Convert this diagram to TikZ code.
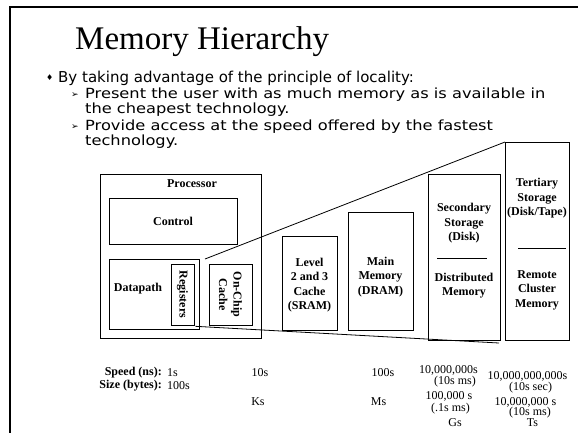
\documentclass[tikz,border=0pt]{standalone}
\usepackage{fontspec}
\setmainfont{Liberation Serif}
\newfontfamily\comic{DejaVu Sans}
\newfontfamily\comicwide[FakeStretch=1.16]{DejaVu Sans}
\begin{document}
\begin{tikzpicture}[x=1pt,y=-1pt,
  box/.style={draw, line width=1.3pt, rectangle, inner sep=0pt, anchor=north west},
  lbl/.style={font=\bfseries\fontsize{12}{14.5}\selectfont, align=center, inner sep=0pt},
  val/.style={font=\fontsize{12}{14}\selectfont, inner sep=0pt},
  bval/.style={font=\bfseries\fontsize{12}{14}\selectfont, inner sep=0pt, anchor=east},
  bul/.style={inner sep=0pt, anchor=base west},
  subtxt/.style={bul, font=\comicwide\fontsize{14}{14}\selectfont},
  conn/.style={line width=0.8pt},
  sep/.style={line width=0.8pt}]
\useasboundingbox (0,0) rectangle (578,432);
\draw[line width=2pt] (10,433) -- (10,7) -- (579,7);

% title and bullets
\node[bul, font=\fontsize{33}{33}\selectfont] (title) at (75,49) {Memory Hierarchy};
\node[bul, font=\comic\fontsize{8}{8}\selectfont] (d1) at (46,80) {♦};
\node[bul, font=\comic\fontsize{15}{15}\selectfont] (b1) at (58,82) {By taking advantage of the principle of locality:};
\node[bul, font=\comic\fontsize{9}{9}\selectfont] (a1) at (71,97) {➢};
\node[subtxt] (s1) at (85,98) {Present the user with as much memory as is available in};
\node[subtxt] (s2) at (85,113) {the cheapest technology.};
\node[bul, font=\comic\fontsize{9}{9}\selectfont] (a2) at (71,129) {➢};
\node[subtxt] (s3) at (85,130) {Provide access at the speed offered by the fastest};
\node[subtxt] (s4) at (85,145) {technology.};

% boxes
\node[box, minimum width=161pt, minimum height=164pt] (proc) at (100,174) {};
\node[lbl] (proct) at (192,184) {Processor};
\node[box, minimum width=128pt, minimum height=46pt] (ctrl) at (109,198) {};
\node[lbl] (ctrlt) at (173,221) {Control};
\node[box, minimum width=90pt, minimum height=70pt] (dp) at (109,259) {};
\node[lbl] (dpt) at (138,289) {Datapath};
\node[box, minimum width=23pt, minimum height=61pt] (regs) at (171,264) {};
\node[lbl, rotate=-90] (regst) at (182.5,294.5) {Registers};
\node[box, minimum width=43pt, minimum height=61pt] (occ) at (209,264) {};
\node[lbl, rotate=-90] (occt) at (230.5,294.5) {On-Chip\\Cache};
\node[box, minimum width=55pt, minimum height=94pt] (l2) at (282,236) {};
\node[lbl] (l2t) at (309.5,285) {Level\\2 and 3\\Cache\\(SRAM)};
\node[box, minimum width=65pt, minimum height=118pt] (mm) at (348,212) {};
\node[lbl] (mmt) at (380.5,277) {Main\\Memory\\(DRAM)};
\node[box, minimum width=72pt, minimum height=166pt] (sec) at (428,174) {};
\node[lbl] (sect1) at (464,223.5) {Secondary\\Storage\\(Disk)};
\draw[sep] (437,258) -- (487,258);
\node[lbl] (sect2) at (464,285.5) {Distributed\\Memory};
\node[box, minimum width=64pt, minimum height=198pt] (ter) at (505,142) {};
\node[lbl] (tert1) at (537,198.5) {Tertiary\\Storage\\(Disk/Tape)};
\draw[sep] (518,248) -- (566,248);
\node[lbl] (tert2) at (537,290) {Remote\\Cluster\\Memory};

% connectors
\coordinate (c1) at (205,259);
\coordinate (c2) at (499,343);
\draw[conn] (c1) -- (ter.north west);
\draw[conn] (regs.south east) -- (c2);

% bottom values
\node[bval] (spd) at (162,373) {Speed (ns):};
\node[bval] (sz) at (162,386) {Size (bytes):};
\node[val, anchor=west] (v1) at (167,373) {1s};
\node[val, anchor=west] (v2) at (167,386) {100s};
\node[val] (v3) at (260,373) {10s};
\node[val] (v4) at (258,402) {Ks};
\node[val] (v5) at (383,373) {100s};
\node[val] (v6) at (378.5,402) {Ms};
\node[val] (v7) at (448.5,370) {10,000,000s};
\node[val] (v8) at (455,382) {(10s ms)};
\node[val] (v9) at (449,396) {100,000 s};
\node[val] (v10) at (450.5,409) {(.1s ms)};
\node[val] (v11) at (455,423) {Gs};
\node[val] (v12) at (527.5,376) {10,000,000,000s};
\node[val] (v13) at (530.5,388) {(10s sec)};
\node[val] (v14) at (525.5,402) {10,000,000 s};
\node[val] (v15) at (530,413) {(10s ms)};
\node[val] (v16) at (532.5,423) {Ts};
\end{tikzpicture}
\end{document}
